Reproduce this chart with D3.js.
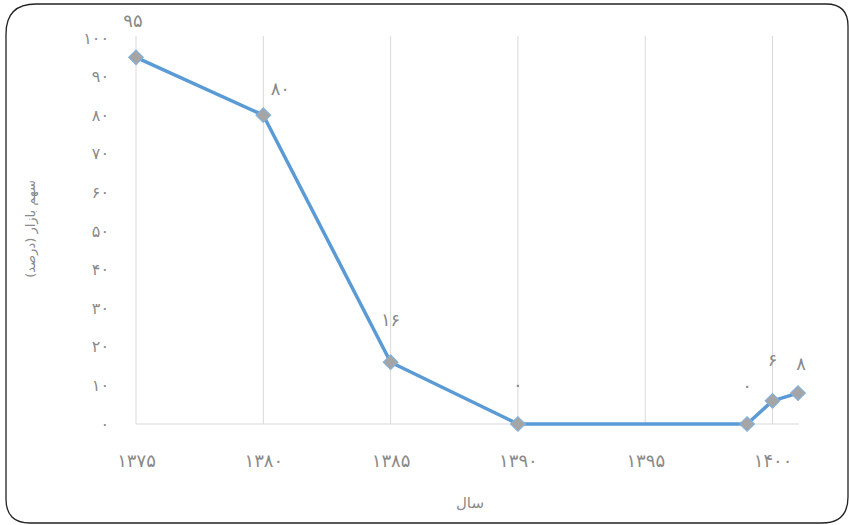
<!DOCTYPE html>
<html>
<head>
<meta charset="utf-8">
<script src="https://cdn.jsdelivr.net/npm/d3@7"></script>
<style>
  body { margin: 0; background: #fff; }
  text { font-family: "DejaVu Sans", sans-serif; fill: #8a8a8a; }
</style>
</head>
<body>
<div id="chart"></div>
<script>
// data
const years = [1375, 1380, 1385, 1390, 1399, 1400, 1401];
const shares = [95, 80, 16, 0, 0, 6, 8];
const xTicks = [1375, 1380, 1385, 1390, 1395, 1400];
const yTicks = [0, 10, 20, 30, 40, 50, 60, 70, 80, 90, 100];
const xTitle = "سال";
const yTitle = "سهم بازار (درصد)";

// hand-placed label nudges (layout only)
const labelDx = [-3, 17, 0, 0, 0, 0, 3];
const labelDy = [-35, -25, -41, -38, -37, -40, -28];

const fa = (n) => String(n).replace(/\d/g, (c) => "۰۱۲۳۴۵۶۷۸۹"[c]);

const width = 849;
const height = 525;

const svg = d3
  .select("#chart")
  .append("svg")
  .attr("width", width)
  .attr("height", height);

// frame with uneven rounded corners
const L = 6, T = 4, R = 848, B = 523;
const rTL = 30, rTR = 22, rBR = 26, rBL = 24;
svg
  .append("path")
  .attr(
    "d",
    `M${L + rTL},${T} H${R - rTR} Q${R},${T} ${R},${T + rTR} V${B - rBR} Q${R},${B} ${R - rBR},${B}` +
      ` H${L + rBL} Q${L},${B} ${L},${B - rBL} V${T + rTL} Q${L},${T} ${L + rTL},${T} Z`
  )
  .attr("fill", "none")
  .attr("stroke", "#222")
  .attr("stroke-width", 1.3);

const xScale = d3.scaleLinear().domain([1375, 1401]).range([136, 798]);
const yScale = d3.scaleLinear().domain([0, 100]).range([424, 38]);

// vertical gridlines
svg
  .append("g")
  .selectAll("line")
  .data(xTicks)
  .enter()
  .append("line")
  .attr("x1", (d) => xScale(d))
  .attr("x2", (d) => xScale(d))
  .attr("y1", yScale(100) - 2)
  .attr("y2", yScale(0))
  .attr("stroke", "#d9d9d9")
  .attr("stroke-width", 1);

// x axis
const xAxis = d3.axisBottom(xScale).tickValues(xTicks).tickSize(0).tickPadding(30).tickFormat(fa);
const gx = svg
  .append("g")
  .attr("transform", "translate(0," + yScale(0) + ")")
  .call(xAxis);
gx.select(".domain").attr("stroke", "#d9d9d9").attr("d", `M${xScale(1375)},0H${xScale(1401) + 1}`);
gx.selectAll("text").attr("font-size", 18).attr("fill", "#8a8a8a");

// y axis
const yAxis = d3.axisLeft(yScale).tickValues(yTicks).tickSize(0).tickPadding(27).tickFormat(fa);
const gy = svg
  .append("g")
  .attr("transform", "translate(" + xScale(1375) + ",0)")
  .call(yAxis);
gy.select(".domain").remove();
gy.selectAll("text").attr("font-size", 16).attr("fill", "#8a8a8a");

// line
const line = d3
  .line()
  .x((d, i) => xScale(years[i]))
  .y((d) => yScale(d));

svg
  .append("path")
  .datum(shares)
  .attr("d", line)
  .attr("fill", "none")
  .attr("stroke", "#5b9bd5")
  .attr("stroke-width", 3.5)
  .attr("stroke-linejoin", "round");

// diamond markers
svg
  .append("g")
  .selectAll("path")
  .data(shares)
  .enter()
  .append("path")
  .attr("d", d3.symbol().type(d3.symbolSquare).size(110))
  .attr("transform", (d, i) => `translate(${xScale(years[i])},${yScale(d)}) rotate(45)`)
  .attr("fill", "#a5a5a5")
  .attr("stroke", "#7fb2e0")
  .attr("stroke-width", 1);

// data labels
svg
  .append("g")
  .selectAll("text")
  .data(shares)
  .enter()
  .append("text")
  .attr("x", (d, i) => xScale(years[i]) + labelDx[i])
  .attr("y", (d, i) => yScale(d) + labelDy[i])
  .attr("text-anchor", "middle")
  .attr("dominant-baseline", "middle")
  .attr("font-size", 18)
  .text((d) => fa(d));

// axis titles
svg
  .append("text")
  .attr("x", 470)
  .attr("y", 503)
  .attr("text-anchor", "middle")
  .attr("dominant-baseline", "middle")
  .attr("font-size", 15)
  .text(xTitle);

svg
  .append("text")
  .attr("transform", "translate(31,229) rotate(-90)")
  .attr("text-anchor", "middle")
  .attr("dominant-baseline", "middle")
  .attr("font-size", 13)
  .text(yTitle);
</script>
</body>
</html>
